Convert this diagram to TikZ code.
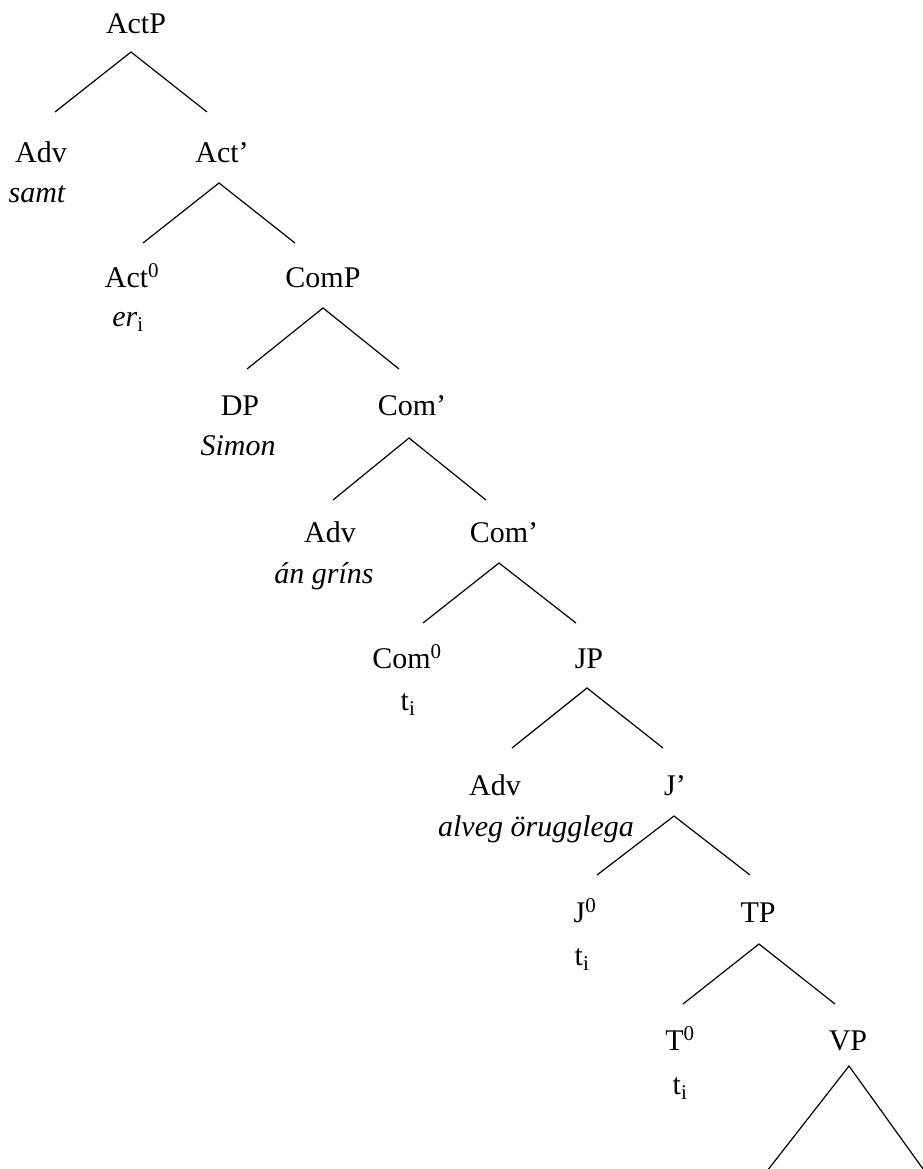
\documentclass[tikz,border=0pt]{standalone}
\usepackage{fontspec}
\setmainfont{Liberation Serif}
\begin{document}
\begin{tikzpicture}[x=1pt, y=-1pt,
    lab/.style={anchor=base, inner sep=0pt, font=\fontsize{30}{35}\selectfont},
    word/.style={lab, font=\fontsize{30}{35}\selectfont\itshape},
    branch/.style={black, line width=1.2pt}]
    \useasboundingbox (0,0) rectangle (922,1169);
    % labels of the spine and its left daughters
    \node[lab] (actp) at (136,34) {ActP};
    \node[lab] (advA) at (41,163) {Adv};
    \node[word] (samt) at (37,203) {samt};
    \node[lab] (actbar) at (222,163) {Act’};
    \node[lab] (act0) at (132,287) {Act\textsuperscript{0}};
    \node[lab] (eri) at (128,326) {\textit{er}\textsubscript{i}};
    \node[lab] (comp) at (323,287) {ComP};
    \node[lab] (dp) at (240,415) {DP};
    \node[word] (simon) at (238,455) {Simon};
    \node[lab] (combarA) at (412,415) {Com’};
    \node[lab] (advB) at (330,542) {Adv};
    \node[word] (grins) at (324,583) {án gríns};
    \node[lab] (combarB) at (504,542) {Com’};
    \node[lab] (com0) at (407,668) {Com\textsuperscript{0}};
    \node[lab] (trA) at (408,710) {t\textsubscript{i}};
    \node[lab] (jp) at (589,668) {JP};
    \node[lab] (advC) at (495,795) {Adv};
    \node[word] (orugg) at (536,836) {alveg örugglega};
    \node[lab] (jbar) at (675,795) {J’};
    \node[lab] (j0) at (585,922) {J\textsuperscript{0}};
    \node[lab] (trB) at (582,965) {t\textsubscript{i}};
    \node[lab] (tp) at (758,922) {TP};
    \node[lab] (t0) at (680,1050) {T\textsuperscript{0}};
    \node[lab] (trC) at (680,1094) {t\textsubscript{i}};
    \node[lab] (vp) at (848,1050) {VP};
    \coordinate (vpl) at (760,1180);
    \coordinate (vpr) at (931,1180);
    % branches
    \draw[branch] ([xshift=14pt,yshift=51pt]advA.base) -- ([xshift=-5pt,yshift=-18pt]actp.base) -- ([xshift=-15pt,yshift=51pt]actbar.base);
    \draw[branch] ([xshift=11pt,yshift=44pt]act0.base) -- ([xshift=-3pt,yshift=-20pt]actbar.base) -- ([xshift=-28pt,yshift=44pt]comp.base);
    \draw[branch] ([xshift=7pt,yshift=46pt]dp.base) -- ([yshift=-21pt]comp.base) -- ([xshift=-13pt,yshift=46pt]combarA.base);
    \draw[branch] ([xshift=3pt,yshift=42pt]advB.base) -- ([xshift=-3pt,yshift=-23pt]combarA.base) -- ([xshift=-18pt,yshift=42pt]combarB.base);
    \draw[branch] ([xshift=16pt,yshift=45pt]com0.base) -- ([xshift=-5pt,yshift=-21pt]combarB.base) -- ([xshift=-13pt,yshift=45pt]jp.base);
    \draw[branch] ([xshift=17pt,yshift=47pt]advC.base) -- ([xshift=-2pt,yshift=-20pt]jp.base) -- ([xshift=-12pt,yshift=47pt]jbar.base);
    \draw[branch] ([xshift=12pt,yshift=47pt]j0.base) -- ([xshift=-1pt,yshift=-21pt]jbar.base) -- ([xshift=-8pt,yshift=47pt]tp.base);
    \draw[branch] ([xshift=3pt,yshift=46pt]t0.base) -- ([xshift=1pt,yshift=-22pt]tp.base) -- ([xshift=-13pt,yshift=46pt]vp.base);
    \draw[branch] (vpl) -- ([xshift=1pt,yshift=-16pt]vp.base) -- (vpr);
\end{tikzpicture}
\end{document}
